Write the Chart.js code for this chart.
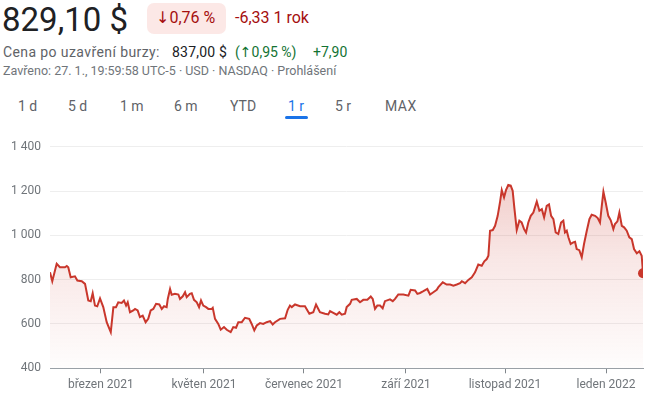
<!DOCTYPE html>
<html><head><meta charset="utf-8">
<script src="https://cdn.jsdelivr.net/npm/chart.js@4/dist/chart.umd.min.js"></script>
<style>
html,body{margin:0;padding:0;background:#fff;width:650px;height:399px;overflow:hidden;font-family:Roboto,Arial,sans-serif;}
.t{position:absolute;white-space:nowrap;}
.ar{font-family:"DejaVu Sans",sans-serif;}
#badge{position:absolute;left:147px;top:3px;width:79px;height:31px;background:#fce8e6;border-radius:7px;}
#uline{position:absolute;left:285px;top:115.5px;width:23px;height:3px;background:#1a73e8;border-radius:2px;}
#wrap{position:absolute;left:0;top:125px;width:650px;height:274px;}
</style></head>
<body>
<div class="t" style="left:2px;top:2.9px;font-size:33px;line-height:33px;color:#202124;">829,10 $</div>
<div id="badge"></div>
<div class="t" style="left:156px;top:9.5px;font-size:16px;line-height:16px;color:#a50e0e;"><span class="ar">↓</span>0,76 %</div>
<div class="t" style="left:235px;top:9.5px;font-size:16px;line-height:16px;color:#a50e0e;">-6,33 1 rok</div>
<div class="t" style="left:3px;top:44.9px;font-size:14px;line-height:14px;color:#5f6368;letter-spacing:0.4px;">Cena po uzavření burzy:</div>
<div class="t" style="left:172px;top:44.9px;font-size:14px;line-height:14px;color:#202124;letter-spacing:0.2px;">837,00 $</div>
<div class="t" style="left:235px;top:44.9px;font-size:14px;line-height:14px;color:#137333;">(<span class="ar">↑</span>0,95 %)</div>
<div class="t" style="left:313px;top:44.9px;font-size:14px;line-height:14px;color:#137333;">+7,90</div>
<div class="t" style="left:3px;top:64.5px;font-size:12.5px;line-height:12.5px;color:#70757a;">Zavřeno: 27. 1., 19:59:58 UTC-5 · USD · NASDAQ · Prohlášení</div>
<div class="t" style="left:18px;top:98.9px;font-size:14px;line-height:14px;color:#5f6368;">1 d</div>
<div class="t" style="left:68px;top:98.9px;font-size:14px;line-height:14px;color:#5f6368;">5 d</div>
<div class="t" style="left:120px;top:98.9px;font-size:14px;line-height:14px;color:#5f6368;">1 m</div>
<div class="t" style="left:174px;top:98.9px;font-size:14px;line-height:14px;color:#5f6368;">6 m</div>
<div class="t" style="left:230px;top:98.9px;font-size:14px;line-height:14px;color:#5f6368;">YTD</div>
<div class="t" style="left:288px;top:98.9px;font-size:14px;line-height:14px;color:#1a73e8;">1 r</div>
<div id="uline"></div>
<div class="t" style="left:335px;top:98.9px;font-size:14px;line-height:14px;color:#5f6368;">5 r</div>
<div class="t" style="left:385px;top:98.9px;font-size:14px;line-height:14px;color:#5f6368;letter-spacing:0.5px;">MAX</div>
<div id="wrap"><canvas id="c" width="650" height="274"></canvas></div>
<script>
// days since start of the 1-year range
const days = [0,1.4,4.1,6.1,9.2,10.3,11.2,12.7,15.3,16.8,
19.5,21.5,23.5,25,26.2,27.6,29,30.7,32.7,34.8,
37.3,38.9,40.5,41.9,44,45.4,46.7,47.7,49.1,51.1,
52.2,53.8,55.2,56.9,58.7,60.3,61.8,63.4,65.1,67.1,
68.6,70,71.6,72.3,73.7,74.7,76.7,78.8,79.8,81.5,
82.9,83.9,85.9,87,88.4,90.1,91.5,92.7,94.1,95.8,
97.2,99.3,99.9,101.3,103.3,104.8,106.8,108.5,110.9,112.5,
114.2,115.6,117.7,119.7,122.3,123.8,125.4,126.9,128.9,130.9,
133,135.1,136.7,138.1,141.2,144.3,145.9,147.3,148.4,150.4,
153.5,156.5,159.2,161.6,163.3,165.7,168.8,170.8,171.9,173.9,
176,177.6,179.1,181.1,182.1,184.2,185.2,188.3,190.3,192.3,
194.8,196.9,198.1,199.5,200.9,202.6,204.2,205.6,208.7,210.4,
211.8,213.8,216.9,220,221.4,224.1,225.5,227.1,229.2,231.6,
233.3,235.3,237.4,238.4,241.1,243.5,245.6,247.6,249.7,251.7,
252.8,254.8,256.8,258.9,260.9,262.9,265,266.6,268.1,269.1,
270.1,271.8,273.2,274.8,276.2,277.3,278.7,279.9,281.3,282.8,
284,285,286.5,288.1,289.5,291,292.2,293.6,295.1,296.7,
298.8,300.4,301.9,303.3,304.9,306.3,307.6,309,310.4,312,
313.7,315.1,316.1,317.2,318.2,319.6,321.2,322.3,323.3,324.9,
326.4,327.8,329.5,331.1,332.5,334.6,336.2,337.6,338.7,339.7,
341.1,342.7,344.2,345.8,346.8,348.3,349.5,351,352.4,354,
355.6,357.1,358.5,360.2,361.8,363.2,364];
const prices = [833,793,872,856,856,862,856,811,815,796,
793,781,706,703,739,683,680,715,676,608,
563,676,676,698,695,706,683,698,653,661,
668,661,631,638,608,623,661,668,691,688,
668,680,676,713,758,732,736,733,713,725,
743,721,736,739,709,698,676,706,683,676,
668,668,673,623,600,574,586,574,563,586,
583,608,608,628,623,600,571,593,604,600,
608,613,598,608,623,626,664,683,676,688,
680,680,646,653,688,653,646,643,658,650,
642,653,642,646,676,691,709,713,698,709,
709,724,713,668,683,683,671,703,711,703,
713,733,733,728,754,751,736,740,748,758,
733,743,754,766,788,778,778,773,778,784,
793,784,799,811,833,868,863,883,893,908,
1021,1024,1043,1088,1148,1204,1171,1204,1227,1224,
1201,1126,1024,1066,1058,1028,1013,1058,1088,1103,
1153,1111,1118,1081,1133,1140,1088,1073,1013,1006,
1058,1066,1013,1021,991,961,968,971,938,933,
901,961,1021,1073,1093,1088,1078,1058,1133,1197,
1148,1088,1068,1028,1051,1063,1103,1043,1036,1021,
991,983,938,919,928,908,829];
const tickDays = [31.2, 94.5, 155.9, 218.5, 279.3, 341.3];
const tickLabels = ["březen 2021","květen 2021","červenec 2021","září 2021","listopad 2021","leden 2022"];
const yTicks = [400,600,800,1000,1200,1400];

const n = Math.min(days.length, prices.length);
const pts = [];
for (let i = 0; i < n; i++) pts.push({x: days[i], y: prices[i]});
const RED = '#c9372c';

new Chart(document.getElementById('c'), {
  type: 'line',
  data: { datasets: [{
    data: pts,
    borderColor: RED,
    borderWidth: 2,
    tension: 0,
    fill: 'start',
    backgroundColor: (ctx) => {
      const ca = ctx.chart.chartArea;
      if (!ca) return 'rgba(201,55,44,0.1)';
      const g = ctx.chart.ctx.createLinearGradient(0, ca.top, 0, ca.bottom);
      g.addColorStop(0, 'rgba(201,55,44,0.30)');
      g.addColorStop(0.5, 'rgba(201,55,44,0.12)');
      g.addColorStop(1, 'rgba(201,55,44,0.01)');
      return g;
    },
    pointRadius: (ctx) => ctx.dataIndex === n - 1 ? 5 : 0,
    pointBackgroundColor: RED,
    pointBorderWidth: 0,
    pointHoverRadius: 0
  }]},
  options: {
    responsive: false,
    animation: false,
    devicePixelRatio: 1,
    layout: { padding: { top: 21.7, right: 7, left: 0, bottom: 0 } },
    plugins: { legend: { display: false }, tooltip: { enabled: false } },
    scales: {
      x: {
        type: 'linear',
        min: days[0], max: days[n - 1],
        afterBuildTicks: (s) => { s.ticks = tickDays.map(v => ({ value: v })); },
        afterFit: (s) => { s.height = 30.7; },
        ticks: {
          autoSkip: false, maxRotation: 0, padding: 4,
          color: '#70757a', font: { family: 'Roboto', size: 12 },
          callback: (v, i) => tickLabels[i]
        },
        grid: { drawOnChartArea: false, drawTicks: true, tickLength: 5, color: '#80868b', lineWidth: 1 },
        border: { display: true, color: '#9aa0a6', width: 1 }
      },
      y: {
        min: 400, max: 1400,
        afterBuildTicks: (s) => { s.ticks = yTicks.map(v => ({ value: v })); },
        afterFit: (s) => { s.width = 50; },
        ticks: {
          padding: 9, color: '#70757a', font: { family: 'Roboto', size: 12 },
          callback: (v) => v >= 1000 ? Math.floor(v / 1000) + '\u00a0' + String(v % 1000).padStart(3, '0') : String(v)
        },
        grid: { color: '#eeeeee', drawTicks: false, lineWidth: 1 },
        border: { display: false }
      }
    }
  }
});
</script>
</body></html>
